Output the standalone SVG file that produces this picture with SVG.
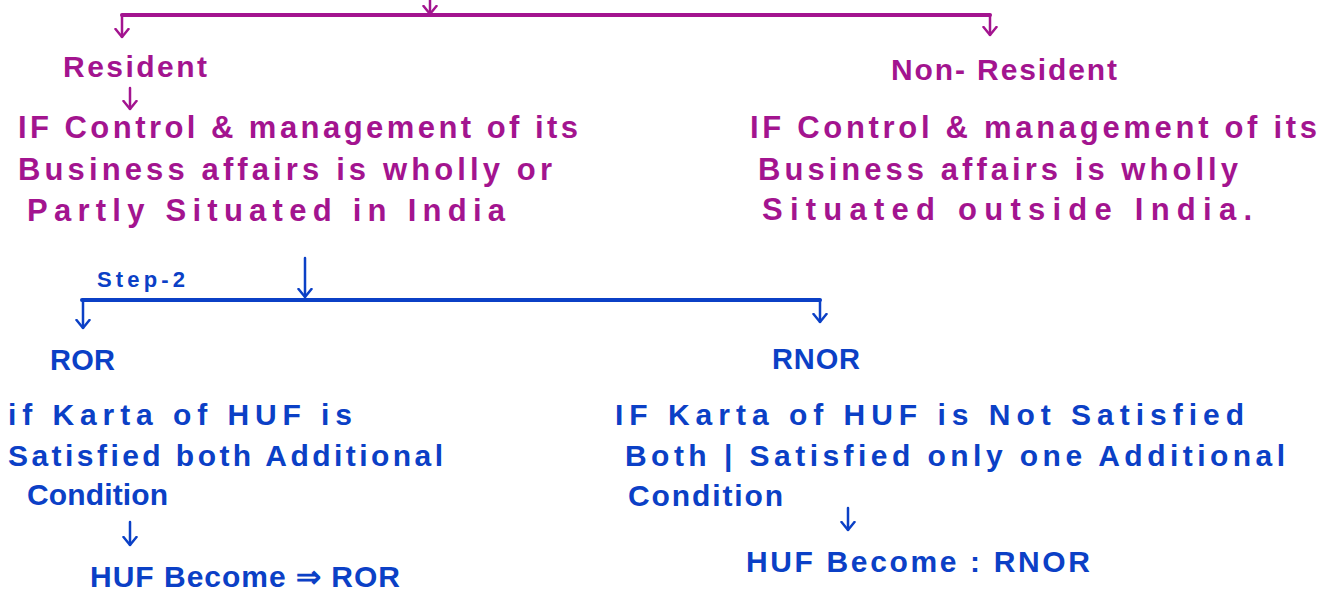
<svg xmlns="http://www.w3.org/2000/svg" width="1333" height="599" viewBox="0 0 1333 599">
<style>
.m{fill:#a3148f;font-family:"Liberation Sans",Arial,sans-serif;font-weight:bold}
.b{fill:#0b40c6;font-family:"Liberation Sans",Arial,sans-serif;font-weight:bold}
.lm{stroke:#a3148f;fill:none;stroke-linecap:round;stroke-linejoin:round}
.lb{stroke:#0b40c6;fill:none;stroke-linecap:round;stroke-linejoin:round}
</style>
<defs>
<marker id="am" markerUnits="userSpaceOnUse" viewBox="0 0 10 16" refX="9" refY="8" markerWidth="10" markerHeight="16" orient="auto">
<path d="M1,1.5 L9,8 L1,14.5" fill="none" stroke="#a3148f" stroke-width="2.5" stroke-linecap="round" stroke-linejoin="round"/>
</marker>
<marker id="ab" markerUnits="userSpaceOnUse" viewBox="0 0 10 16" refX="9" refY="8" markerWidth="10" markerHeight="16" orient="auto">
<path d="M1,1.5 L9,8 L1,14.5" fill="none" stroke="#0b40c6" stroke-width="2.5" stroke-linecap="round" stroke-linejoin="round"/>
</marker>
</defs>
<rect width="1333" height="599" fill="#ffffff"/>
<g id="connectors">
<path class="lm" stroke-width="4" d="M122,15 H990"/>
<path class="lm" stroke-width="2.5" d="M430,0 V14" marker-end="url(#am)"/>
<path class="lm" stroke-width="2.5" d="M122,15 V37" marker-end="url(#am)"/>
<path class="lm" stroke-width="2.5" d="M990,15 V35" marker-end="url(#am)"/>
<path class="lm" stroke-width="2.5" d="M130,88 V109" marker-end="url(#am)"/>
<path class="lb" stroke-width="4" d="M82,300 H820"/>
<path class="lb" stroke-width="2.5" d="M305,258 V297" marker-end="url(#ab)"/>
<path class="lb" stroke-width="2.5" d="M83,300 V328" marker-end="url(#ab)"/>
<path class="lb" stroke-width="2.5" d="M820,300 V322" marker-end="url(#ab)"/>
<path class="lb" stroke-width="2.5" d="M130,522 V545" marker-end="url(#ab)"/>
<path class="lb" stroke-width="2.5" d="M848,508 V530" marker-end="url(#ab)"/>
</g>
<g id="resident">
<text class="m" x="63" y="77" font-size="30" textLength="144" lengthAdjust="spacing">Resident</text>
</g>
<g id="resident-desc">
<text class="m" x="18" y="138" font-size="31" textLength="560" lengthAdjust="spacing">IF Control &amp; management of its</text>
<text class="m" x="18" y="180" font-size="31" textLength="534" lengthAdjust="spacing">Business affairs is wholly or</text>
<text class="m" x="27" y="221" font-size="31" textLength="478" lengthAdjust="spacing">Partly Situated in India</text>
</g>
<g id="non-resident">
<text class="m" x="891" y="80" font-size="30" textLength="226" lengthAdjust="spacing">Non- Resident</text>
</g>
<g id="non-resident-desc">
<text class="m" x="750" y="138" font-size="31" textLength="567" lengthAdjust="spacing">IF Control &amp; management of its</text>
<text class="m" x="758" y="180" font-size="31" textLength="480" lengthAdjust="spacing">Business affairs is wholly</text>
<text class="m" x="762" y="220" font-size="31" textLength="490" lengthAdjust="spacing">Situated outside India.</text>
</g>
<g id="step2">
<text class="b" x="97" y="287" font-size="22" textLength="88" lengthAdjust="spacing">Step-2</text>
</g>
<g id="ror">
<text class="b" x="50" y="370" font-size="29" textLength="65" lengthAdjust="spacing">ROR</text>
</g>
<g id="ror-desc">
<text class="b" x="8" y="425" font-size="30" textLength="344" lengthAdjust="spacing">if Karta of HUF  is</text>
<text class="b" x="8" y="466" font-size="30" textLength="435" lengthAdjust="spacing">Satisfied both Additional</text>
<text class="b" x="27" y="505" font-size="30" textLength="141" lengthAdjust="spacing">Condition</text>
</g>
<g id="ror-result">
<text class="b" x="90" y="587" font-size="30" textLength="310" lengthAdjust="spacing">HUF Become ⇒ ROR</text>
</g>
<g id="rnor">
<text class="b" x="772" y="369" font-size="29" textLength="88" lengthAdjust="spacing">RNOR</text>
</g>
<g id="rnor-desc">
<text class="b" x="615" y="425" font-size="30" textLength="629" lengthAdjust="spacing">IF Karta of HUF is Not Satisfied</text>
<text class="b" x="625" y="466" font-size="30" textLength="660" lengthAdjust="spacing">Both | Satisfied only one Additional</text>
<text class="b" x="628" y="506" font-size="30" textLength="155" lengthAdjust="spacing">Condition</text>
</g>
<g id="rnor-result">
<text class="b" x="746" y="572" font-size="30" textLength="344" lengthAdjust="spacing">HUF Become : RNOR</text>
</g>
</svg>
